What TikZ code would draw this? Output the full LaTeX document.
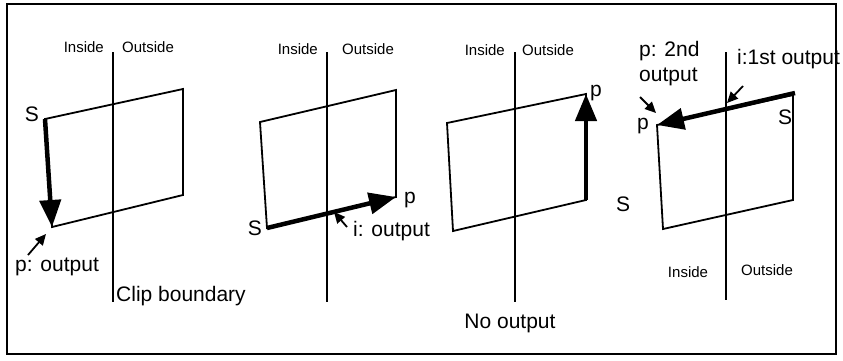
\documentclass[tikz,border=0pt]{standalone}
\usepackage{fontspec}
\setmainfont{Liberation Sans}
\usetikzlibrary{arrows.meta}
\tikzset{
  lbl/.style     = {inner sep=0pt, font=\fontsize{21}{25}\selectfont},
  side/.style    = {inner sep=0pt, font=\fontsize{15}{17}\selectfont},
  poly/.style    = {line width=1.8pt, line join=miter},
  clipline/.style= {line width=2.2pt},
  trace/.style   = {line width=4.5pt, -{Triangle[length=27pt,width=21pt]}},
  pointer/.style = {line width=1.8pt, -{Triangle[length=11pt,width=10pt]}}
}

\begin{document}
\begin{tikzpicture}[x=1pt, y=-1pt]
  \useasboundingbox (0,0) rectangle (843,360);
  \draw[line width=2pt] (7,4) rectangle (836,354);

  % case 1: inside -> inside
  \coordinate (a1) at (45,119);  \coordinate (a2) at (183,89);
  \coordinate (a3) at (183,195); \coordinate (a4) at (52,227);
  \coordinate (ctop1) at (113,52); \coordinate (cbot1) at (113,302);
  \draw[poly] (a1) -- (a2) -- (a3) -- (a4) -- cycle;
  \draw[clipline] (ctop1) -- (cbot1);
  \node[side, anchor=east] (in1)  at (104,47) {Inside};
  \node[side, anchor=west] (out1) at (122,47) {Outside};
  \node[lbl] (s1) at (32,114) {S};
  \node[lbl, anchor=west] (p1) at (15,267) {p: output};
  \node[lbl, anchor=west] (cb) at (116,296) {Clip boundary};
  \coordinate (t1) at (28,255);
  \draw[trace] (a1) -- (a4);
  \draw[pointer] (t1) -- (46,234);

  % case 2: inside -> outside
  \coordinate (b1) at (260,122); \coordinate (b2) at (396,90);
  \coordinate (b3) at (396,197); \coordinate (b4) at (267,228);
  \coordinate (ctop2) at (327,52); \coordinate (cbot2) at (327,302);
  \draw[poly] (b1) -- (b2) -- (b3) -- (b4) -- cycle;
  \draw[clipline] (ctop2) -- (cbot2);
  \node[side, anchor=east] (in2)  at (318,49) {Inside};
  \node[side, anchor=west] (out2) at (342,49) {Outside};
  \node[lbl] (s2) at (255,228) {S};
  \node[lbl] (p2) at (410,200) {p};
  \node[lbl, anchor=west] (i2) at (353,231) {i: output};
  \coordinate (t2) at (347,227); \coordinate (h2) at (334,212);
  \draw[trace] (b4) -- (b3);
  \draw[pointer] (t2) -- (h2);

  % case 3: outside -> outside
  \coordinate (c1) at (447,123); \coordinate (c2) at (586,94);
  \coordinate (c3) at (586,200); \coordinate (c4) at (453,231);
  \coordinate (ctop3) at (515,52); \coordinate (cbot3) at (515,302);
  \draw[poly] (c1) -- (c2) -- (c3) -- (c4) -- cycle;
  \draw[clipline] (ctop3) -- (cbot3);
  \node[side, anchor=east] (in3)  at (505,50) {Inside};
  \node[side, anchor=west] (out3) at (522,50) {Outside};
  \node[lbl] (p3) at (596,93) {p};
  \node[lbl] (s3) at (623,204) {S};
  \node[lbl] (no) at (510,323) {No output};
  \draw[trace] (c3) -- (c2);

  % case 4: outside -> inside
  \coordinate (d1) at (657,125); \coordinate (d2) at (793,95);
  \coordinate (d3) at (793,200); \coordinate (d4) at (663,229);
  \coordinate (ctop4) at (726,52); \coordinate (cbot4) at (726,300);
  \draw[poly] (d1) -- (d2) -- (d3) -- (d4) -- cycle;
  \draw[clipline] (ctop4) -- (cbot4);
  \node[side] (in4)  at (688,272) {Inside};
  \node[side] (out4) at (767,270) {Outside};
  \node[lbl] (s4) at (785,117) {S};
  \node[lbl] (p4) at (643,126) {p};
  \node[lbl, anchor=west, align=left] (p4txt) at (639,64) {p: 2nd\\output};
  \node[lbl, anchor=west] (i4) at (737,59) {i:1st output};
  \coordinate (e4) at (795,93);
  \draw[trace] (e4) -- (d1);
  \draw[pointer] (640,97) -- (656,113);
  \draw[pointer] (743,86) -- (727,103);
\end{tikzpicture}
\end{document}
